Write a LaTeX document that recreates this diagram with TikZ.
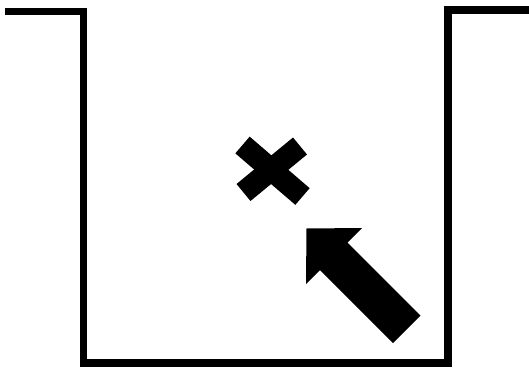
\documentclass[tikz,border=0pt]{standalone}
\begin{document}
\begin{tikzpicture}[x=0.75pt,y=-0.75pt,
  wall/.style={line width=5.3pt,line join=miter,line cap=butt},
  solidshape/.style={fill=black,draw=none},
  crossarm/.style={line width=16.5pt,line cap=butt}]
\useasboundingbox (0,0) rectangle (529,372);
% well outline
\draw[wall] (5,11.5) -- (83.5,11.5) -- (83.5,363) -- (448,363) -- (448,10) -- (529,10);
% cross
\draw[crossarm] (242.5,145) -- (302.5,196.5);
\draw[crossarm] (300,146) -- (243.5,192.5);
% arrow
\fill[solidshape] (306.5,228.5) -- (362,228) -- (347.5,242.5) -- (420.5,315.5)
  -- (393,343) -- (320,270) -- (306,284) -- cycle;
\end{tikzpicture}
\end{document}
